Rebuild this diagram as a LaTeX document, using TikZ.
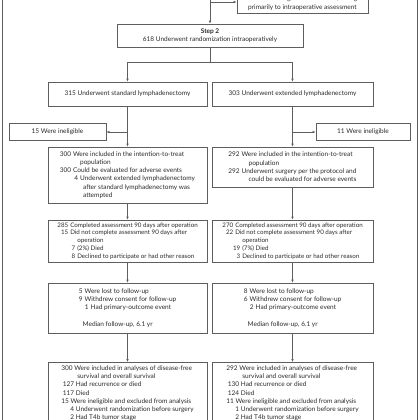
\documentclass[tikz,border=0pt]{standalone}
\usepackage{fontspec}
\setmainfont{Lato}
\usetikzlibrary{arrows.meta}
\definecolor{lnc}{HTML}{5E5E5E}
\definecolor{txc}{HTML}{2A2A2A}
\newcommand\Lone[1]{\makebox[11pt][r]{#1}\hspace*{2pt}}
\newcommand\Lcont{\hspace*{20pt}}
\newcommand\Ltwo[1]{\hspace*{9pt}\makebox[9pt][r]{#1}\hspace*{2pt}}
\newcommand\Ltcont{\hspace*{23pt}}
\newcommand\Lat[1]{\hspace*{#1}}
\begin{document}
\begin{tikzpicture}[x=1pt,y=-1pt,
  ln/.style={draw=lnc,line width=0.7pt},
  ar/.style={ln,-{Latex[length=3pt,width=2.6pt]}},
  box/.style={ln,inner sep=0pt,align=left,text=txc,
    font=\fontsize{6.5}{8.3}\selectfont},
  cbox/.style={box,align=center},
  nbox/.style={box,font=\fontsize{6.2}{7.8}\selectfont}]
\useasboundingbox (0,0) rectangle (420,420);
% page frame
\draw[ln] (2,-5) -- (2,425);
\draw[ln] (417,-5) -- (417,425);
% top
\node[cbox,anchor=south,minimum width=131pt,inner ysep=3pt] (excl) at (302.5,13.5)
  {Did not undergo randomization, owing\\primarily to intraoperative assessment};
\coordinate (top) at (210,-10);
\coordinate (j0) at (210,2);
\node[cbox,minimum width=186pt,minimum height=23pt] (step2) at (210,35.5)
  {\textbf{Step 2}\\618 Underwent randomization intraoperatively};
\draw[ar] (top) -- (step2.north);
\draw[ar] (j0) -- (j0 -| excl.west);
% arms
\node[cbox,minimum width=159pt,minimum height=24pt] (std) at (127.5,94)
  {315 Underwent standard lymphadenectomy};
\node[cbox,minimum width=161pt,minimum height=24pt] (ext) at (292.5,94)
  {303 Underwent extended lymphadenectomy};
\coordinate (sp) at (210,62);
\draw[ln] (step2.south) -- (sp);
\draw[ar] (sp) -| (std.north);
\draw[ar] (sp) -| (ext.north);
% ineligible
\node[cbox,minimum width=97pt,minimum height=17pt] (inL) at (57.5,132)
  {15 Were ineligible};
\node[cbox,minimum width=94pt,minimum height=17pt] (inR) at (363,132)
  {11 Were ineligible};
% ITT
\node[box,minimum width=159pt,minimum height=56pt] (ittL) at (127.5,175)
  {\Lone{300}Were included in the intention-to-treat\\
   \Lcont population\\
   \Lone{300}Could be evaluated for adverse events\\
   \Ltwo{4}Underwent extended lymphadenectomy\\
   \Ltcont after standard lymphadenectomy was\\
   \Ltcont attempted};
\node[box,minimum width=161pt,minimum height=40pt] (ittR) at (292.5,167)
  {\Lone{292}Were included in the intention-to-treat\\
   \Lcont population\\
   \Lone{292}Underwent surgery per the protocol and\\
   \Lcont could be evaluated for adverse events};
\coordinate (bL) at (127.5,132);
\coordinate (bR) at (292.5,132);
\draw[ar] (std.south) -- (ittL.north);
\draw[ar] (ext.south) -- (ittR.north);
\draw[ar] (bL) -- (inL.east);
\draw[ar] (bR) -- (inR.west);
% 90 days
\node[nbox,minimum width=159pt,minimum height=42pt] (dL) at (127.5,241)
  {\Lone{285}Completed assessment 90 days after operation\\
   \Lone{15}Did not complete assessment 90 days after\\
   \Lcont operation\\
   \Ltwo{7}(2\%) Died\\
   \Ltwo{8}Declined to participate or had other reason};
\node[nbox,minimum width=161pt,minimum height=42pt] (dR) at (292.5,241)
  {\Lone{270}Completed assessment 90 days after operation\\
   \Lone{22}Did not complete assessment 90 days after\\
   \Lcont operation\\
   \Ltwo{19}(7\%) Died\\
   \Ltwo{3}Declined to participate or had other reason};
\draw[ar] (ittL.south) -- (dL.north);
\draw[ar] (ittR.south) -- (dR.north);
% follow-up
\node[box,minimum width=159pt,minimum height=50pt] (fL) at (127.5,308)
  {\makebox[4pt][r]{5}\hspace*{2pt}Were lost to follow-up\\
   \makebox[4pt][r]{9}\hspace*{2pt}Withdrew consent for follow-up\\
   \Lat{6pt}\makebox[4pt][r]{1}\hspace*{2pt}Had primary-outcome event\\[8.3pt]
   \Lat{4pt}Median follow-up, 6.1 yr};
\node[box,minimum width=161pt,minimum height=50pt] (fR) at (292.5,308)
  {\makebox[4pt][r]{8}\hspace*{2pt}Were lost to follow-up\\
   \makebox[4pt][r]{6}\hspace*{2pt}Withdrew consent for follow-up\\
   \Lat{6pt}\makebox[4pt][r]{2}\hspace*{2pt}Had primary-outcome event\\[8.3pt]
   \Lat{4pt}Median follow-up, 6.1 yr};
\draw[ar] (dL.south) -- (fL.north);
\draw[ar] (dR.south) -- (fR.north);
% analyses
\node[box,anchor=north,minimum width=159pt,inner ysep=3pt] (aL) at (127.5,362)
  {300 Were included in analyses of disease-free\\
   \Lat{16pt}survival and overall survival\\
   \Lat{1.5pt}127 Had recurrence or died\\
   \Lat{1.5pt}117 Died\\
   15 Were ineligible and excluded from analysis\\
   \Lat{9pt}4 Underwent randomization before surgery\\
   \Lat{9pt}2 Had T4b tumor stage\\[4pt]};
\node[box,anchor=north,minimum width=161pt,inner ysep=3pt] (aR) at (292.5,362)
  {292 Were included in analyses of disease-free\\
   \Lat{16pt}survival and overall survival\\
   \Lat{1.5pt}130 Had recurrence or died\\
   \Lat{1.5pt}124 Died\\
   11 Were ineligible and excluded from analysis\\
   \Lat{9pt}1 Underwent randomization before surgery\\
   \Lat{9pt}2 Had T4b tumor stage\\[4pt]};
\draw[ar] (fL.south) -- (aL.north);
\draw[ar] (fR.south) -- (aR.north);
\end{tikzpicture}
\end{document}
